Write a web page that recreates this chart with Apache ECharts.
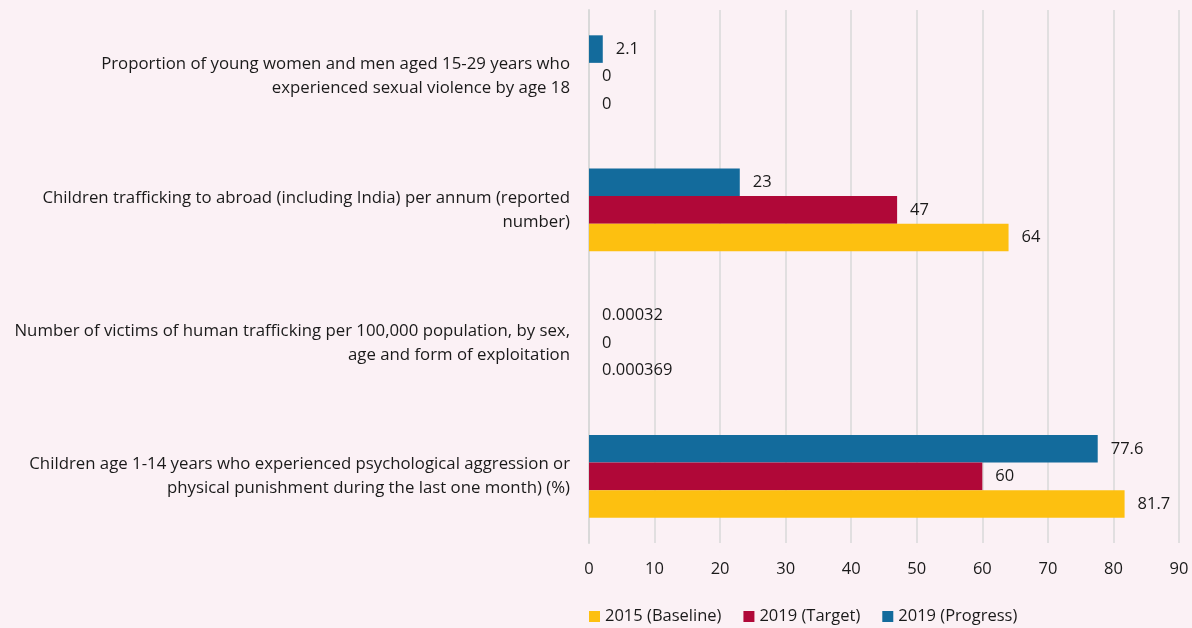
<!DOCTYPE html>
<html>
<head>
<meta charset="utf-8">
<script src="https://cdn.jsdelivr.net/npm/echarts@6/dist/echarts.min.js"></script>
<style>
  html, body { margin: 0; padding: 0; background: #fbf1f5; }
  #chart { width: 1192px; height: 628px; }
</style>
</head>
<body>
<div id="chart"></div>
<script>
// Indicators, listed bottom to top along the category axis
const categories = [
  'Children age 1-14 years who experienced psychological aggression or\nphysical punishment during the last one month) (%)',
  'Number of victims of human trafficking per 100,000 population, by sex,\nage and form of exploitation',
  'Children trafficking to abroad (including India) per annum (reported\nnumber)',
  'Proportion of young women and men aged 15-29 years who\nexperienced sexual violence by age 18'
];
const seriesNames = ['2015 (Baseline)', '2019 (Target)', '2019 (Progress)'];
const baseline = [81.7, 0.000369, 64, 0];
const target = [60, 0, 47, 0];
const progress = [77.6, 0.00032, 23, 2.1];
const xTicks = { min: 0, max: 90, interval: 10 };

const colors = { baseline: '#fdc010', target: '#b00838', progress: '#136b9c' };
const fontFamily = '"Open Sans", Lato, sans-serif';

function barSeries(name, data, color) {
  return {
    name: name,
    type: 'bar',
    data: data,
    barGap: '0%',
    barCategoryGap: '38%',
    itemStyle: { color: color },
    label: {
      show: true,
      position: 'right',
      distance: 13,
      color: '#1a1a1a',
      fontSize: 16.5,
      fontFamily: fontFamily
    }
  };
}

const chart = echarts.init(document.getElementById('chart'));
chart.setOption({
  backgroundColor: '#fbf1f5',
  animation: false,
  grid: { left: 589, right: 13, top: 10, bottom: 85, containLabel: false },
  legend: {
    top: 603,
    left: 584,
    icon: 'rect',
    itemWidth: 11,
    itemHeight: 11,
    itemGap: 22,
    textStyle: { color: '#1a1a1a', fontSize: 16.5, fontFamily: fontFamily },
    data: seriesNames
  },
  xAxis: {
    type: 'value',
    min: xTicks.min,
    max: xTicks.max,
    interval: xTicks.interval,
    axisLine: { show: false },
    axisTick: { show: false },
    axisLabel: { color: '#1a1a1a', fontSize: 16.5, fontFamily: fontFamily, margin: 18 },
    splitLine: { show: true, lineStyle: { color: '#d9d9d9', width: 1.5 } }
  },
  yAxis: {
    type: 'category',
    data: categories,
    axisLine: { show: true, lineStyle: { color: '#d9d9d9', width: 2 } },
    axisTick: { show: false },
    axisLabel: {
      color: '#1a1a1a',
      fontSize: 16.8,
      fontFamily: fontFamily,
      align: 'right',
      lineHeight: 24,
      margin: 19
    }
  },
  // Progress is listed first so it sits on top within each group
  series: [
    barSeries(seriesNames[2], progress, colors.progress),
    barSeries(seriesNames[1], target, colors.target),
    barSeries(seriesNames[0], baseline, colors.baseline)
  ]
});
</script>
</body>
</html>
